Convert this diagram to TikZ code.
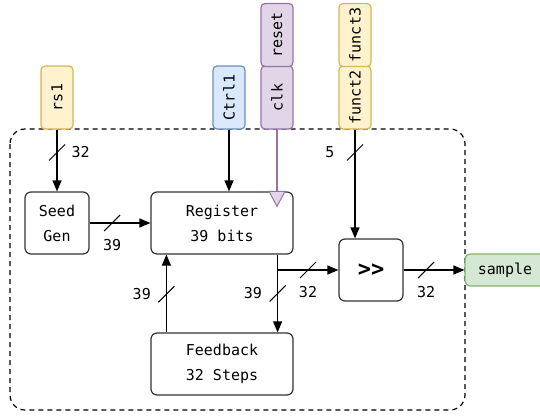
\documentclass[tikz,border=0pt]{standalone}
\usepackage{fontspec}
\setmonofont{DejaVu Sans Mono}
\usetikzlibrary{arrows.meta, positioning}

\definecolor{ylwfill}{HTML}{FFF2CC}
\definecolor{ylwline}{HTML}{D6B656}
\definecolor{bluefill}{HTML}{DAE8FC}
\definecolor{blueline}{HTML}{6C8EBF}
\definecolor{purpfill}{HTML}{E1D5E7}
\definecolor{purpline}{HTML}{9673A6}
\definecolor{grnfill}{HTML}{D5E8D4}
\definecolor{grnline}{HTML}{82B366}

\tikzset{bus/.pic={\draw[line width=1pt] (-8pt,-8pt) -- (8pt,8pt);}}

\begin{document}
\begin{tikzpicture}[x=1pt, y=-1pt, >={Triangle[length=11pt,width=9pt]}, on grid, line width=1.2pt,
        font=\ttfamily\fontsize{15}{25}\selectfont]

        \tikzstyle{block}=[draw=black!80, rounded corners=6pt, align=center, inner sep=0pt]
        \tikzstyle{port}=[draw, rounded corners=4pt, rotate=90, minimum width=63pt, minimum height=32pt, inner sep=0pt]
        \tikzstyle{buslabel}=[inner sep=0pt]

        \useasboundingbox (0,0) rectangle (540,415);

        % boundary of the unit
        \draw[dash pattern=on 5pt off 4pt, rounded corners=15pt] (10,129) rectangle (465,410);

        \node[block, minimum width=142pt, minimum height=62pt]   (reg) at (222,223) {Register\\39 bits};
        \node[block, minimum width=64pt, minimum height=62pt]    (seed) [left=165pt of reg] {Seed\\Gen};
        \node[block, minimum width=142pt, minimum height=62pt]   (fb) [below=141pt of reg] {Feedback\\32 Steps};
        \node[block, minimum width=64pt, minimum height=62pt, font=\ttfamily\bfseries\fontsize{22}{22}\selectfont]   (shr) at (371,270) {>{}>};
        \node[block, draw=grnline, fill=grnfill, minimum width=80pt, minimum height=32pt, rounded corners=5pt]   (smp) [right=134pt of shr] {sample};

        % inputs
        \node[port, draw=ylwline, fill=ylwfill]   (rs1) at (57,97.5) {rs1};
        \node[port, draw=blueline, fill=bluefill]   (ctrl) at (229,97.5) {Ctrl1};
        \node[port, draw=purpline, fill=purpfill]   (clk) at (277,97.5) {clk};
        \node[port, draw=purpline, fill=purpfill]   (reset) at (277,35) {reset};
        \node[port, draw=ylwline, fill=ylwfill]   (f2) at (355,97.5) {funct2};
        \node[port, draw=ylwline, fill=ylwfill]   (f3) at (355,35) {funct3};

        \coordinate (tap) at ([xshift=-16pt]reg.south east);

        \draw[->] (rs1) -- node[buslabel, pos=.37, right=14pt] {32} coordinate[pos=.37] (b_1) (seed);
        \draw[->] (seed) -- node[buslabel, pos=.37, below=16pt] {39} coordinate[pos=.37] (b_2) (reg);
        \draw[->] ([xshift=16pt]fb.north west) -- node[buslabel, pos=.49, left=15pt] {39} coordinate[pos=.49] (b_3) ([xshift=16pt]reg.south west);
        \draw[->] (tap) -- node[buslabel, pos=.5, left=15pt] {39} coordinate[pos=.5] (b_4) ([xshift=-16pt]fb.north east);
        \draw[->] (tap |- shr.west) -- node[buslabel, pos=.5, below=16pt] {32} coordinate[pos=.5] (b_5) (shr.west);
        \draw[->] (shr) -- node[buslabel, pos=.37, below=16pt] {32} coordinate[pos=.37] (b_6) (smp);
        \draw[->] (f2) -- node[buslabel, pos=.21, left=20pt] {5} coordinate[pos=.21] (b_7) (f2 |- shr.north);
        \draw[->] (ctrl) -- (ctrl |- reg.north);

        % clock input
        \draw[purpline] (clk) -- (clk |- reg.north);
        \draw[purpline, fill=purpfill, line width=1pt] (clk |- reg.north) ++(-8pt,0) -- ++(16pt,0) -- ++(-8pt,-15pt) -- cycle;

        \foreach \b in {b_1,b_2,b_3,b_4,b_5,b_6,b_7}
            \pic at (\b) {bus};

\end{tikzpicture}
\end{document}
